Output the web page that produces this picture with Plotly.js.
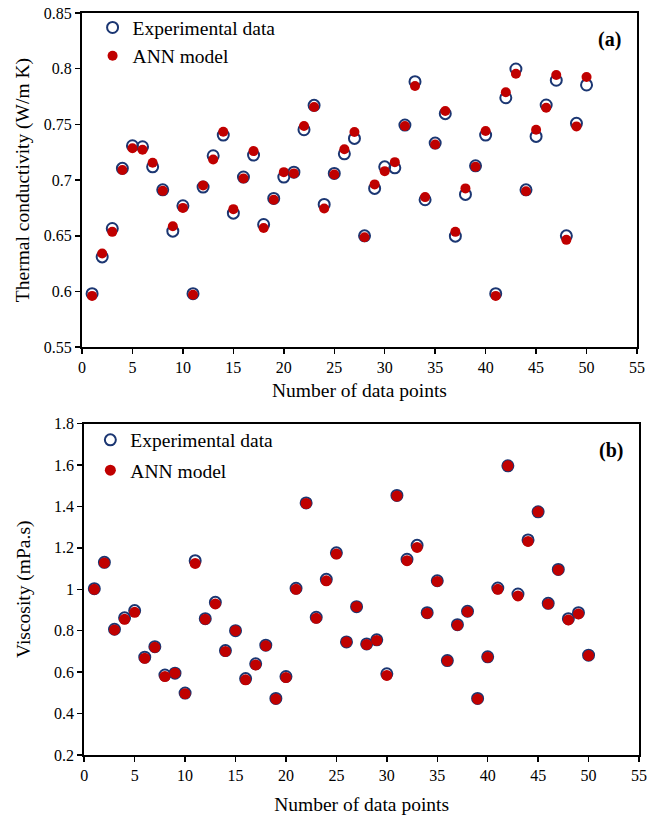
<!DOCTYPE html>
<html>
<head>
<meta charset="utf-8">
<script src="https://cdn.plot.ly/plotly-3.0.1.min.js"></script>
<style>html,body{margin:0;padding:0;background:#fff;}#chart{width:648px;height:815px;}</style>
</head>
<body>
<div id="chart"></div>
<script>
const dataPoints = Array.from({length: 50}, (_, i) => i + 1);

const tcExperimental = [0.598,0.631,0.6565,0.7105,0.7308,0.7299,0.7119,0.6912,0.6541,0.6769,
  0.598,0.6937,0.7218,0.7404,0.6703,0.7027,0.7224,0.6601,0.6835,0.7027,
  0.7071,0.7452,0.7671,0.6781,0.706,0.7236,0.7374,0.6499,0.6925,0.7119,
  0.711,0.7494,0.7883,0.6823,0.7332,0.7596,0.6496,0.6871,0.7128,0.7404,
  0.598,0.7739,0.7997,0.6912,0.7392,0.7674,0.7896,0.6499,0.7509,0.7854];

const tcANN = [0.596,0.634,0.6535,0.709,0.7285,0.7272,0.7155,0.6903,0.6586,0.675,
  0.597,0.6952,0.7185,0.7434,0.6739,0.7015,0.726,0.657,0.6823,0.7071,
  0.706,0.7485,0.7656,0.6745,0.705,0.7276,0.7431,0.6487,0.6961,0.708,
  0.7161,0.7485,0.7845,0.6847,0.732,0.762,0.6535,0.6925,0.7119,0.744,
  0.596,0.7788,0.7955,0.690,0.7452,0.765,0.7944,0.6463,0.7482,0.7925];

const viscExperimental = [1.003,1.130,0.807,0.862,0.897,0.672,0.723,0.586,0.595,0.499,
  1.138,0.858,0.937,0.704,0.80,0.569,0.640,0.730,0.473,0.579,
  1.005,1.417,0.865,1.048,1.176,0.746,0.916,0.736,0.756,0.592,
  1.453,1.145,1.212,0.887,1.041,0.656,0.829,0.894,0.473,0.674,
  1.006,1.596,0.977,1.238,1.374,0.932,1.096,0.858,0.887,0.682];

const viscANN = [1.0,1.127,0.804,0.855,0.889,0.667,0.72,0.579,0.595,0.496,
  1.125,0.855,0.929,0.70,0.80,0.563,0.635,0.727,0.470,0.574,
  1.0,1.414,0.86,1.041,1.17,0.745,0.916,0.733,0.753,0.584,
  1.45,1.138,1.202,0.884,1.038,0.654,0.826,0.891,0.470,0.672,
  1.0,1.596,0.968,1.231,1.374,0.929,1.093,0.852,0.881,0.680];

const tcTickVals = [0.55,0.6,0.65,0.7,0.75,0.8,0.85];
const tcTickText = ['0.55','0.6','0.65','0.7','0.75','0.8','0.85'];
const viscTickVals = [0.2,0.4,0.6,0.8,1.0,1.2,1.4,1.6,1.8];
const viscTickText = ['0.2','0.4','0.6','0.8','1','1.2','1.4','1.6','1.8'];
const xTickVals = [0,5,10,15,20,25,30,35,40,45,50,55];

const FONT = 'Liberation Serif, Times New Roman, serif';
const BLUE = '#1b3672';
const RED = '#c00000';

const traces = [
  {x: dataPoints, y: tcExperimental, type: 'scatter', mode: 'markers', name: 'Experimental data',
   xaxis: 'x', yaxis: 'y', legend: 'legend',
   marker: {symbol: 'circle-open', size: 11, color: BLUE, line: {width: 2, color: BLUE}}},
  {x: dataPoints, y: tcANN, type: 'scatter', mode: 'markers', name: 'ANN model',
   xaxis: 'x', yaxis: 'y', legend: 'legend',
   marker: {symbol: 'circle', size: 10, color: RED}},
  {x: dataPoints, y: viscExperimental, type: 'scatter', mode: 'markers', name: 'Experimental data',
   xaxis: 'x2', yaxis: 'y2', legend: 'legend2', legendgroup: 'g1',
   marker: {symbol: 'circle-open', size: 11, color: BLUE, line: {width: 2, color: BLUE}}},
  {x: dataPoints, y: viscANN, type: 'scatter', mode: 'markers', name: 'ANN model',
   xaxis: 'x2', yaxis: 'y2', legend: 'legend2', legendgroup: 'g2',
   marker: {symbol: 'circle', size: 11, color: RED}}
];

const axisCommon = {
  showgrid: false, zeroline: false, showline: true, linecolor: '#000', linewidth: 2,
  mirror: true, ticks: 'outside', ticklen: 5, tickwidth: 1.5, tickcolor: '#000',
  tickfont: {family: FONT, size: 16, color: '#000'}
};

const TITLE_SIZE = 19.5;

const layout = {
  width: 648, height: 815,
  margin: {l: 82, r: 9, t: 12, b: 60},
  paper_bgcolor: '#fff', plot_bgcolor: '#fff',
  font: {family: FONT, color: '#000'},
  showlegend: true,
  xaxis: Object.assign({}, axisCommon, {
    domain: [0, 0.9964], anchor: 'y', range: [0, 55], tickvals: xTickVals,
    title: {text: 'Number of data points', font: {family: FONT, size: TITLE_SIZE, color: '#000'}, standoff: 8}
  }),
  yaxis: Object.assign({}, axisCommon, {
    domain: [0.5497, 1], anchor: 'x', range: [0.55, 0.85], tickvals: tcTickVals, ticktext: tcTickText,
    title: {text: 'Thermal conductivity (W/m K)', font: {family: FONT, size: TITLE_SIZE, color: '#000'}, standoff: 9}
  }),
  xaxis2: Object.assign({}, axisCommon, {
    domain: [0.004, 1], anchor: 'y2', range: [0, 55], tickvals: xTickVals,
    title: {text: 'Number of data points', font: {family: FONT, size: TITLE_SIZE, color: '#000'}, standoff: 16}
  }),
  yaxis2: Object.assign({}, axisCommon, {
    domain: [0, 0.4467], anchor: 'x2', range: [0.2, 1.8], tickvals: viscTickVals, ticktext: viscTickText,
    title: {text: 'Viscosity (mPa.s)', font: {family: FONT, size: TITLE_SIZE, color: '#000'}, standoff: 18}
  }),
  legend: {
    x: 0.019, y: 1.005, xanchor: 'left', yanchor: 'top', bgcolor: 'rgba(0,0,0,0)',
    font: {family: FONT, size: 19.5, color: '#000'}, tracegroupgap: 0
  },
  legend2: {
    x: 0.015, y: 0.45, xanchor: 'left', yanchor: 'top', bgcolor: 'rgba(0,0,0,0)',
    font: {family: FONT, size: 19.5, color: '#000'}, traceorder: 'grouped', tracegroupgap: 2
  },
  annotations: [
    {text: '<b>(a)</b>', xref: 'x domain', yref: 'y domain', x: 0.975, y: 0.92,
     xanchor: 'right', yanchor: 'middle', showarrow: false, font: {family: FONT, size: 20, color: '#000'}},
    {text: '<b>(b)</b>', xref: 'x2 domain', yref: 'y2 domain', x: 0.975, y: 0.92,
     xanchor: 'right', yanchor: 'middle', showarrow: false, font: {family: FONT, size: 20, color: '#000'}}
  ]
};

Plotly.newPlot('chart', traces, layout, {displayModeBar: false, staticPlot: true});
</script>
</body>
</html>
